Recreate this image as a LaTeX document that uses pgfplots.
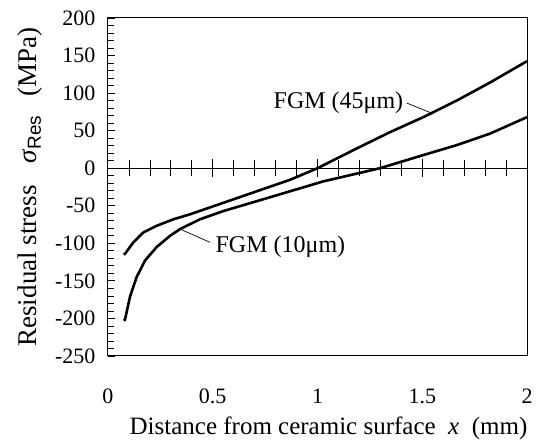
\documentclass[border=0pt]{standalone}
\usepackage{fontspec}
\setmainfont{Liberation Serif}
\newfontfamily\sansf{Liberation Sans}
\usepackage{pgfplots}
\pgfplotsset{compat=1.18}

\newcommand\tickfont{\fontsize{22}{26}\selectfont}
\newcommand\labelfont{\fontsize{25}{30}\selectfont}
\newcommand\ylabelfont{\fontsize{27}{32}\selectfont}
\newcommand\notefont{\fontsize{24}{28}\selectfont}

% FGM (45um): upper curve at x=2
\pgfplotstableread{
x y
0.075 -115
0.081 -114
0.121 -98.7
0.169 -85.5
0.232 -76.7
0.312 -68
0.391 -61.4
0.551 -46
0.710 -30.7
0.869 -15.4
1.000 0
1.187 26.3
1.346 48
1.505 68
1.664 90
1.823 114
2.000 142.5
}\fgmA

% FGM (10um)
\pgfplotstableread{
x y
0.075 -203
0.081 -201.7
0.105 -171
0.137 -144.7
0.177 -122.8
0.232 -105
0.296 -90
0.344 -81
0.439 -68
0.551 -57
0.710 -43.9
0.869 -30.7
1.028 -17.5
1.298 0
1.505 17.5
1.664 30.7
1.823 46
2.000 68
}\fgmB

\begin{document}
\begin{tikzpicture}
% frame of the page: the box is 419 x 338 with its lower left corner at the origin
\useasboundingbox (-108pt,-87pt) rectangle (429pt,356pt);
\pgfplotsset{
  common/.style={scale only axis, width=419pt, height=338pt,
    xmin=0, xmax=2, ymin=-250, ymax=200},
}
\begin{axis}[
  common,
  tick label style={font=\tickfont},
  xlabel style={font=\labelfont, xshift=11pt},
  ylabel style={font=\ylabelfont},
  axis line style={line width=1pt},
  xtick={0,0.5,1,1.5,2},
  xticklabels={0,0.5,1,1.5,2},
  major x tick style={draw=none},
  xtick pos=bottom, ytick pos=left,
  ytick={-250,-200,...,200},
  yticklabels={-250,-200,-150,-100,-50,0,50,100,150,200},
  minor y tick num=4,
  tick align=inside,
  major tick length=7pt, minor tick length=6pt,
  tick style={line width=0.8pt, black},
  xticklabel shift=29pt,
  yticklabel shift=9pt,
  ylabel shift=6pt,
  xlabel shift=7pt,
  xlabel={Distance from ceramic surface \ \textit{x}\ \ (mm)},
  ylabel={Residual stress\hspace{0.8em}\textit{σ}\textsubscript{\sansf Res}\hspace{0.7em}(MPa)},
]
\addplot[black, line width=2.6pt] table {\fgmA};
\addplot[black, line width=2.6pt] table {\fgmB};
\node[anchor=base, font=\notefont] at (axis cs:1.10,79) {FGM (45μm)};
\draw[line width=0.7pt] (axis cs:1.426,86.8) -- (axis cs:1.553,72.4);
\node[anchor=base, font=\notefont] at (axis cs:0.823,-112) {FGM (10μm)};
\draw[line width=0.7pt] (axis cs:0.487,-98.7) -- (axis cs:0.344,-81);
\end{axis}
\begin{axis}[
  common,
  axis x line*=middle, axis y line=none,
  axis line style={line width=1pt},
  xtick={0.5,1,1.5},
  minor xtick={0.1,0.2,0.3,0.4,0.6,0.7,0.8,0.9,1.1,1.2,1.3,1.4,1.6,1.7,1.8,1.9},
  xticklabels={},
  ytick=\empty,
  tick align=center,
  major tick length=18pt, minor tick length=16pt,
  tick style={line width=0.8pt, black},
]
\end{axis}
\end{tikzpicture}
\end{document}
